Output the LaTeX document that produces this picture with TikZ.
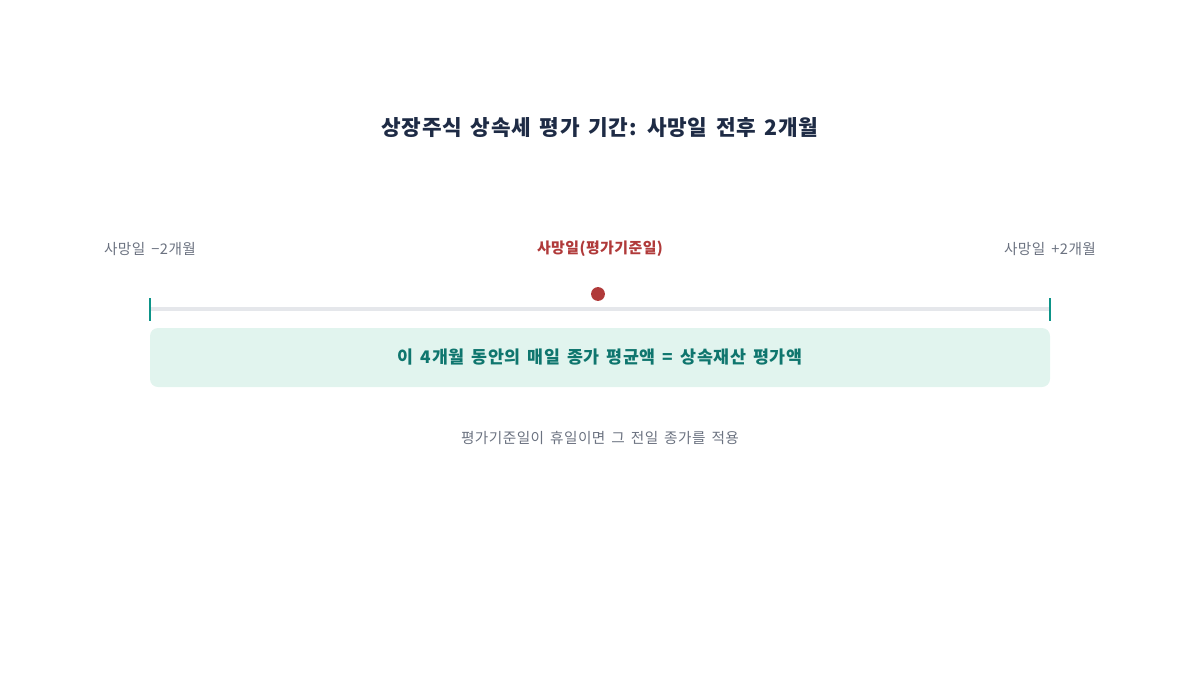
\documentclass[tikz,border=0pt]{standalone}
\usepackage{fontspec}
\setmainfont{Noto Sans CJK KR}[LetterSpace=3,WordSpace=1.6]
\definecolor{titlec}{HTML}{1E2B45}
\definecolor{greyt}{HTML}{6B7280}
\definecolor{redc}{HTML}{B03A3A}
\definecolor{tealc}{HTML}{0D9488}
\definecolor{tealt}{HTML}{0F766E}
\definecolor{linec}{HTML}{E5E7EB}
\definecolor{boxc}{HTML}{E1F4EE}
\begin{document}
\begin{tikzpicture}[x=0.75pt,y=-0.75pt,
  title/.style={font=\fontsize{16}{18}\selectfont\bfseries, text=titlec, inner sep=0pt},
  endlabel/.style={font=\fontsize{11}{12}\selectfont, text=greyt, inner sep=0pt},
  midlabel/.style={font=\fontsize{11.2}{12}\selectfont\bfseries, text=redc, inner sep=0pt},
  tick/.style={draw=tealc, line width=1.5pt},
  axis/.style={draw=linec, line width=2.4pt},
  band/.style={fill=boxc, rounded corners=6pt, inner sep=0pt, minimum width=675pt, minimum height=44.25pt, font=\fontsize{13}{14}\selectfont\bfseries, text=tealt},
  note/.style={font=\fontsize{11}{12}\selectfont, text=greyt, inner sep=0pt}]
\useasboundingbox (0,0) rectangle (1200,675);
\node[title] (t) at (600,128) {상장주식 상속세 평가 기간: 사망일 전후 2개월};
\node[endlabel] (l) at (150,249) {사망일 −2개월};
\node[midlabel] (m) at (600,249) {사망일(평가기준일)};
\node[endlabel] (r) at (1050,249) {사망일 +2개월};
\coordinate (a) at (150,309);
\coordinate (b) at (1050,309);
\draw[axis] (a) -- (b);
\draw[tick] (150,298) -- (150,321);
\draw[tick] (1050,298) -- (1050,321);
\fill[redc] (598,294) circle (5.2pt);
\node[band] (box) at (600,357.5) {이 4개월 동안의 매일 종가 평균액 = 상속재산 평가액};
\node[note] (n) at (600,438) {평가기준일이 휴일이면 그 전일 종가를 적용};
\end{tikzpicture}
\end{document}
